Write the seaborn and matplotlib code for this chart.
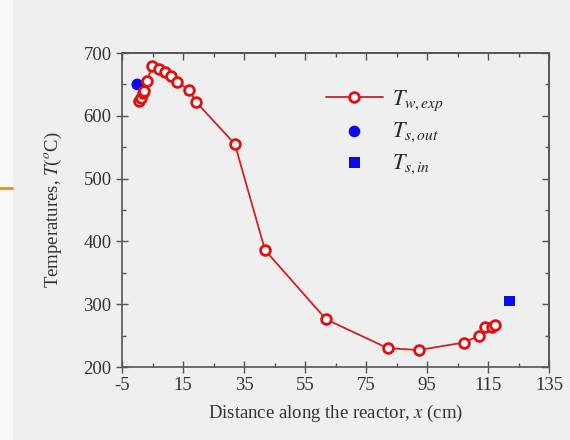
import numpy as np
import pandas as pd
import matplotlib
matplotlib.use('Agg')
import matplotlib.pyplot as plt
import seaborn as sns
from matplotlib.ticker import MultipleLocator, NullFormatter

# wall temperature, experiment
x_wall = [0.7, 1.1, 1.8, 2.2, 3.3, 4.9, 7.0, 9.1, 11.1, 13.1, 17.0, 19.3,
          32.0, 41.9, 61.9, 82.1, 92.3, 107.2, 112.2, 114.1, 116.3, 117.3]
t_wall = [624, 629, 636, 640, 656, 680, 675, 669, 663, 654, 641, 622,
          555, 386, 276, 230, 227, 239, 250, 264, 263, 267]

# solid outlet / inlet
x_out = [0.0]
t_out = [650]
x_in = [122.1]
t_in = [305]

x_major = np.arange(-5, 136, 20)
x_minor = np.arange(5, 136, 20)

sns.set_style('ticks')
plt.rcParams['font.family'] = ['Liberation Serif', 'DejaVu Serif']
plt.rcParams['mathtext.fontset'] = 'stix'
plt.rcParams['axes.unicode_minus'] = False

bg = '#efefef'
edge = '#555555'
fig = plt.figure(figsize=(5.7, 4.4), dpi=100, facecolor=bg)
ax = fig.add_axes([122 / 570, 1 - 367 / 440, 427 / 570, 314 / 440])
ax.set_facecolor(bg)

wall = pd.DataFrame({'x': x_wall, 'T': t_wall})
sns.lineplot(data=wall, x='x', y='T', ax=ax, color='#d42020', lw=1.3,
             marker='o', markersize=7, markerfacecolor='white',
             markeredgecolor='#e01010', markeredgewidth=2, sort=False,
             label=r'$T_{w,exp}$')
sns.scatterplot(x=x_out, y=t_out, ax=ax, color='#0a0af0', marker='o', s=70,
                edgecolor='none', label=r'$T_{s,out}$')
sns.scatterplot(x=x_in, y=t_in, ax=ax, color='#0a0af0', marker='s', s=60,
                edgecolor='none', label=r'$T_{s,in}$')

ax.set_xlim(-5, 135)
ax.set_ylim(200, 700)
ax.set_xticks(x_major)
ax.set_xticks(x_minor, minor=True)
ax.yaxis.set_major_locator(MultipleLocator(100))
ax.yaxis.set_minor_locator(MultipleLocator(50))
ax.tick_params(which='major', direction='inout', length=8, width=1,
               color=edge, labelsize=13.5, labelcolor='#333333')
ax.tick_params(which='minor', direction='in', length=3, width=1, color=edge)
for s in ax.spines.values():
    s.set_color(edge)
    s.set_linewidth(1.2)

# inward ticks on top and right
top = ax.secondary_xaxis('top')
top.set_xticks(x_major)
top.set_xticks(x_minor, minor=True)
top.xaxis.set_major_formatter(NullFormatter())
right = ax.secondary_yaxis('right')
right.yaxis.set_major_locator(MultipleLocator(100))
right.yaxis.set_minor_locator(MultipleLocator(50))
right.yaxis.set_major_formatter(NullFormatter())
for sec in (top, right):
    sec.tick_params(which='major', direction='in', length=5, width=1, color=edge)
    sec.tick_params(which='minor', direction='in', length=3, width=1, color=edge)
    for s in sec.spines.values():
        s.set_color(edge)
        s.set_linewidth(1.2)

ax.set_xlabel(r'Distance along the reactor, $x$ (cm)', fontsize=13.5,
              color='#333333', labelpad=6)
ax.set_ylabel(r'Temperatures, $T$($^{o}$C)', fontsize=13.5,
              color='#333333', labelpad=14)

leg = ax.legend(loc='upper left', bbox_to_anchor=(0.43, 0.95), frameon=False,
                fontsize=16, handlelength=2.6, labelspacing=0.35,
                handletextpad=0.4)

# slide remnants on the left edge
fig.patches.append(plt.Rectangle((0, 0), 12 / 570, 1, transform=fig.transFigure,
                                 color='#f8f9fb', zorder=-1))
fig.lines.append(plt.Line2D([0, 12 / 570], [1 - 188 / 440] * 2,
                            transform=fig.transFigure, color='#f08a20', lw=2))

fig.savefig('out.png', dpi=100, facecolor=bg)
